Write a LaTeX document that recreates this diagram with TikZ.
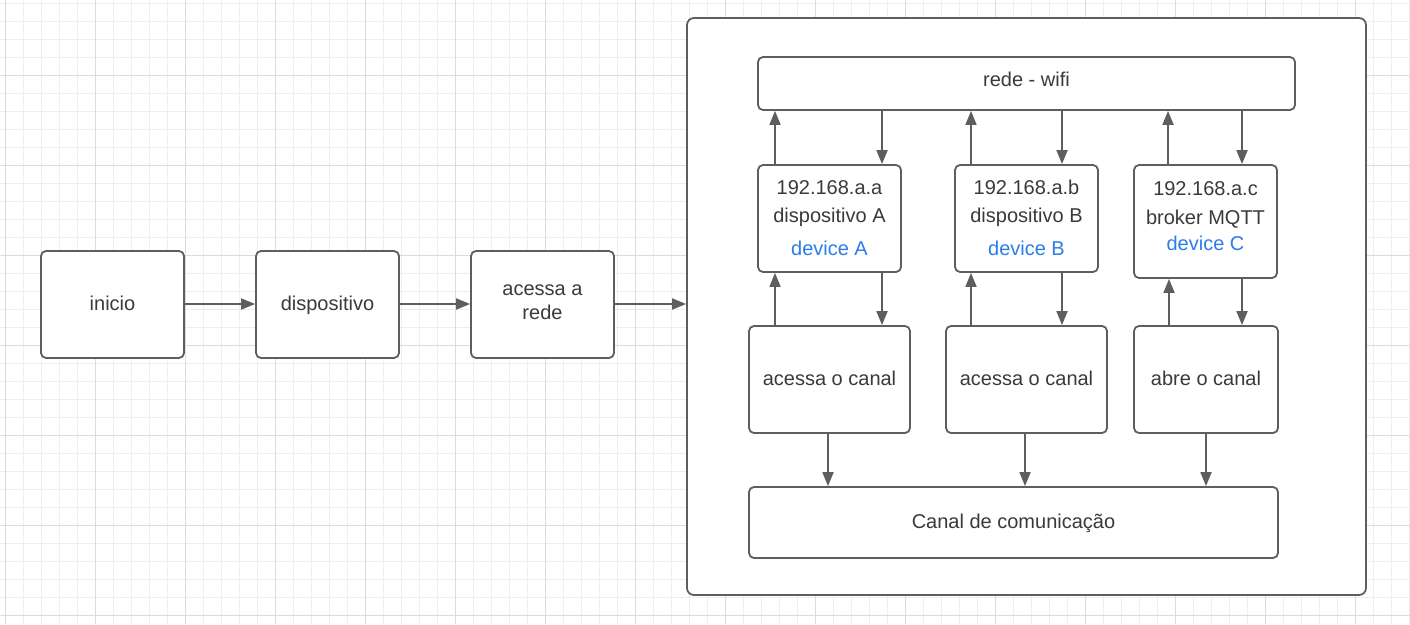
\documentclass[tikz,border=0pt]{standalone}
\usepackage{fontspec}
\setmainfont{Liberation Sans}
\usetikzlibrary{arrows.meta}
\definecolor{gridminor}{HTML}{EEEEEE}
\definecolor{gridmajor}{HTML}{DCDCDC}
\definecolor{lineC}{HTML}{5E5E5E}
\definecolor{textC}{HTML}{3A3A3A}
\definecolor{blueC}{HTML}{2B7DE9}
\begin{document}
\begin{tikzpicture}[x=1pt,y=-1pt,
  box/.style={draw=lineC, line width=1.8pt, rounded corners=5pt, fill=white, inner sep=0pt,
    text=textC, font=\fontsize{20}{24}\selectfont, text height=1.1em, text depth=0pt, align=center},
  txt/.style={text=textC, font=\fontsize{20}{24}\selectfont, inner sep=0pt, text height=1.1em, text depth=0pt},
  blu/.style={txt, text=blueC},
  arr/.style={draw=lineC, line width=1.8pt, -{Triangle[length=14pt,width=11pt]}}]
\useasboundingbox (0,0) rectangle (1410,624);
\fill[white] (0,0) rectangle (1410,624);
% grid
\foreach \i in {0,...,78} {
  \draw[gridminor, line width=1pt] ({5.3+18*\i},0) -- ({5.3+18*\i},624);
}
\foreach \j in {0,...,34} {
  \draw[gridminor, line width=1pt] (0,{3+18*\j}) -- (1410,{3+18*\j});
}
\foreach \i in {0,...,15} {
  \draw[gridmajor, line width=1pt] ({5.3+90*\i},0) -- ({5.3+90*\i},624);
}
\foreach \j in {0,...,6} {
  \draw[gridmajor, line width=1pt] (0,{75+90*\j}) -- (1410,{75+90*\j});
}
% left chain
\node[box, minimum width=143pt, minimum height=107pt] (ini) at (112.5,304.5) {inicio};
\node[box, minimum width=143pt, minimum height=107pt] (disp) at (327.5,304.5) {dispositivo};
\node[box, minimum width=143pt, minimum height=107pt] (rede) at (542.5,304.5) {};
\node[txt] (redeL1) at (542.5,290) {acessa a};
\node[txt] (redeL2) at (542.5,314) {rede};
% container
\node[box, rounded corners=7pt, minimum width=679pt, minimum height=577pt] (cont) at (1026.5,306.5) {};
% wifi
\node[box, minimum width=537pt, minimum height=53pt] (wifi) at (1026.5,83.5) {};
\node[txt] (wifiL) at (1026.5,81) {rede - wifi};
% device boxes
\node[box, minimum width=143pt, minimum height=107pt] (devA) at (829.5,218.5) {};
\node[txt] (ipA) at (829.5,189) {192.168.a.a};
\node[txt] (nmA) at (829.5,217) {dispositivo A};
\node[blu] (dvA) at (829.5,250) {device A};
\node[box, minimum width=143pt, minimum height=107pt] (devB) at (1026.5,218.5) {};
\node[txt] (ipB) at (1026.5,189) {192.168.a.b};
\node[txt] (nmB) at (1026.5,217) {dispositivo B};
\node[blu] (dvB) at (1026.5,250) {device B};
\node[box, minimum width=143pt, minimum height=113pt] (devC) at (1205.5,221.5) {};
\node[txt] (ipC) at (1205.5,190) {192.168.a.c};
\node[txt] (nmC) at (1205.5,219) {broker MQTT};
\node[blu] (dvC) at (1205.5,245) {device C};
% channel boxes
\node[box, minimum width=161pt, minimum height=107pt] (chA) at (829.5,379.5) {acessa o canal};
\node[box, minimum width=161pt, minimum height=107pt] (chB) at (1026.5,379.5) {acessa o canal};
\node[box, minimum width=144pt, minimum height=107pt] (chC) at (1206,379.5) {abre o canal};
\node[box, minimum width=529pt, minimum height=71pt] (canal) at (1013.5,522.5) {Canal de comunica\c{c}\~ao};
% arrows left chain
\draw[arr] (ini.east |- 0,304) -- (disp.west |- 0,304);
\draw[arr] (disp.east |- 0,304) -- (rede.west |- 0,304);
\draw[arr] (rede.east |- 0,304) -- (cont.west |- 0,304);
% wifi <-> devices
\draw[arr] (775,0 |- devA.north) -- (775,0 |- wifi.south);
\draw[arr] (882,0 |- wifi.south) -- (882,0 |- devA.north);
\draw[arr] (971,0 |- devB.north) -- (971,0 |- wifi.south);
\draw[arr] (1062,0 |- wifi.south) -- (1062,0 |- devB.north);
\draw[arr] (1168,0 |- devC.north) -- (1168,0 |- wifi.south);
\draw[arr] (1242,0 |- wifi.south) -- (1242,0 |- devC.north);
% devices <-> channels
\draw[arr] (775,0 |- chA.north) -- (775,0 |- devA.south);
\draw[arr] (882,0 |- devA.south) -- (882,0 |- chA.north);
\draw[arr] (971,0 |- chB.north) -- (971,0 |- devB.south);
\draw[arr] (1062,0 |- devB.south) -- (1062,0 |- chB.north);
\draw[arr] (1169,0 |- chC.north) -- (1169,0 |- devC.south);
\draw[arr] (1242,0 |- devC.south) -- (1242,0 |- chC.north);
% channels -> canal
\draw[arr] (828,0 |- chA.south) -- (828,0 |- canal.north);
\draw[arr] (1025,0 |- chB.south) -- (1025,0 |- canal.north);
\draw[arr] (1206,0 |- chC.south) -- (1206,0 |- canal.north);
\end{tikzpicture}
\end{document}
